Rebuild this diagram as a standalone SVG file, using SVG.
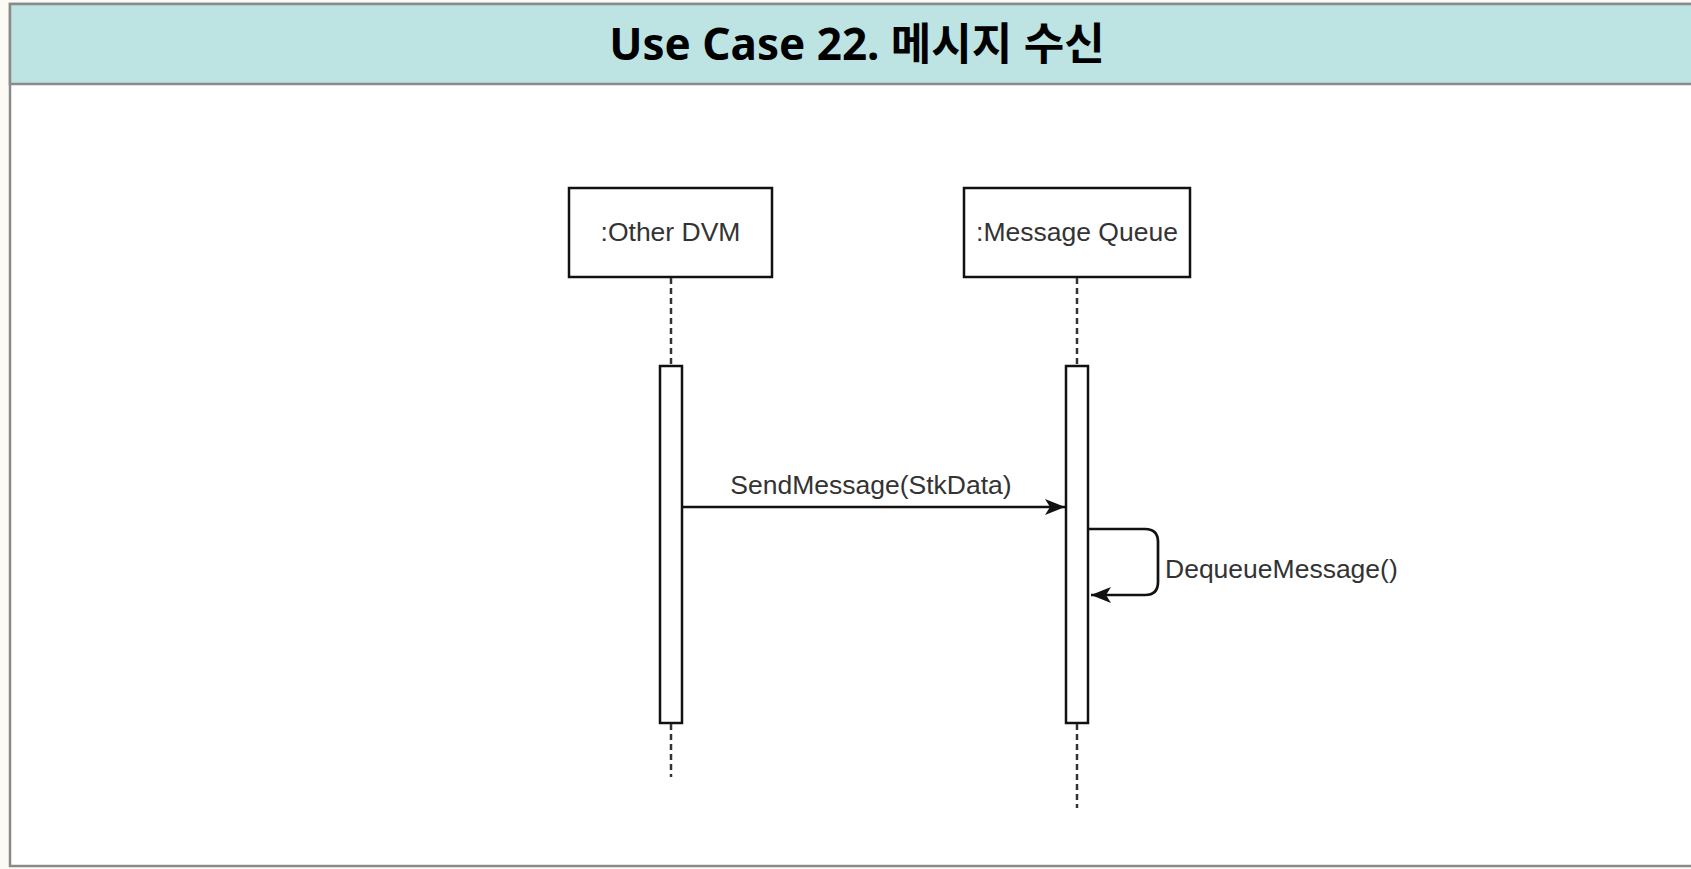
<svg xmlns="http://www.w3.org/2000/svg" width="1691" height="869" viewBox="0 0 1691 869">
  <defs>
    <style>
      .frame { fill: #ffffff; stroke: #8a8a8a; stroke-width: 2.5; }
      .header { fill: #bde4e2; stroke: #8a8a8a; stroke-width: 2.5; }
      .title { font-family: "Noto Sans", "Noto Sans CJK KR", sans-serif; font-weight: bold; font-size: 44px; fill: #000; }
      .box { fill: #ffffff; stroke: #111; stroke-width: 2.5; }
      .label { font-family: "Liberation Sans", Arial, sans-serif; font-size: 26.5px; fill: #333; }
      .life { stroke: #333; stroke-width: 2.5; stroke-dasharray: 6 4; fill: none; }
      .act { fill: #ffffff; stroke: #111; stroke-width: 2.5; }
      .msg { stroke: #111; stroke-width: 2.7; fill: none; }
    </style>
    <marker id="arrow" markerUnits="userSpaceOnUse" markerWidth="24" markerHeight="24" viewBox="0 0 24 24" refX="22" refY="12" orient="auto">
      <path d="M2,4 L22,12 L2,20 L7,12 Z" fill="#111"/>
    </marker>
  </defs>
  <rect x="0" y="0" width="1691" height="869" fill="#fbfaf5"/>
  <g id="frame">
    <rect class="frame" x="10" y="4" width="1685" height="862"/>
    <rect class="header" x="10" y="4" width="1685" height="80"/>
    <text class="title" x="857" y="60" text-anchor="middle">Use Case 22. 메시지 수신</text>
  </g>
  <g id="other-dvm">
    <rect class="box" x="569" y="188" width="203" height="89"/>
    <text class="label" x="670.5" y="241" text-anchor="middle">:Other DVM</text>
    <line class="life" x1="671" y1="278" x2="671" y2="366"/>
    <rect class="act" x="660" y="366" width="22" height="357"/>
    <line class="life" x1="671" y1="724" x2="671" y2="777"/>
  </g>
  <g id="message-queue">
    <rect class="box" x="964" y="188" width="226" height="89"/>
    <text class="label" x="1077" y="241" text-anchor="middle">:Message Queue</text>
    <line class="life" x1="1077" y1="278" x2="1077" y2="366"/>
    <rect class="act" x="1066" y="366" width="22" height="357"/>
    <line class="life" x1="1077" y1="724" x2="1077" y2="808"/>
  </g>
  <g id="connectors">
    <line class="msg" x1="682" y1="507" x2="1065" y2="507" marker-end="url(#arrow)"/>
    <text class="label" x="871" y="494" text-anchor="middle">SendMessage(StkData)</text>
    <path class="msg" d="M1089,529 L1145,529 Q1158,529 1158,542 L1158,582 Q1158,595 1145,595 L1091,595" marker-end="url(#arrow)"/>
    <text class="label" x="1165" y="578">DequeueMessage()</text>
  </g>
</svg>
